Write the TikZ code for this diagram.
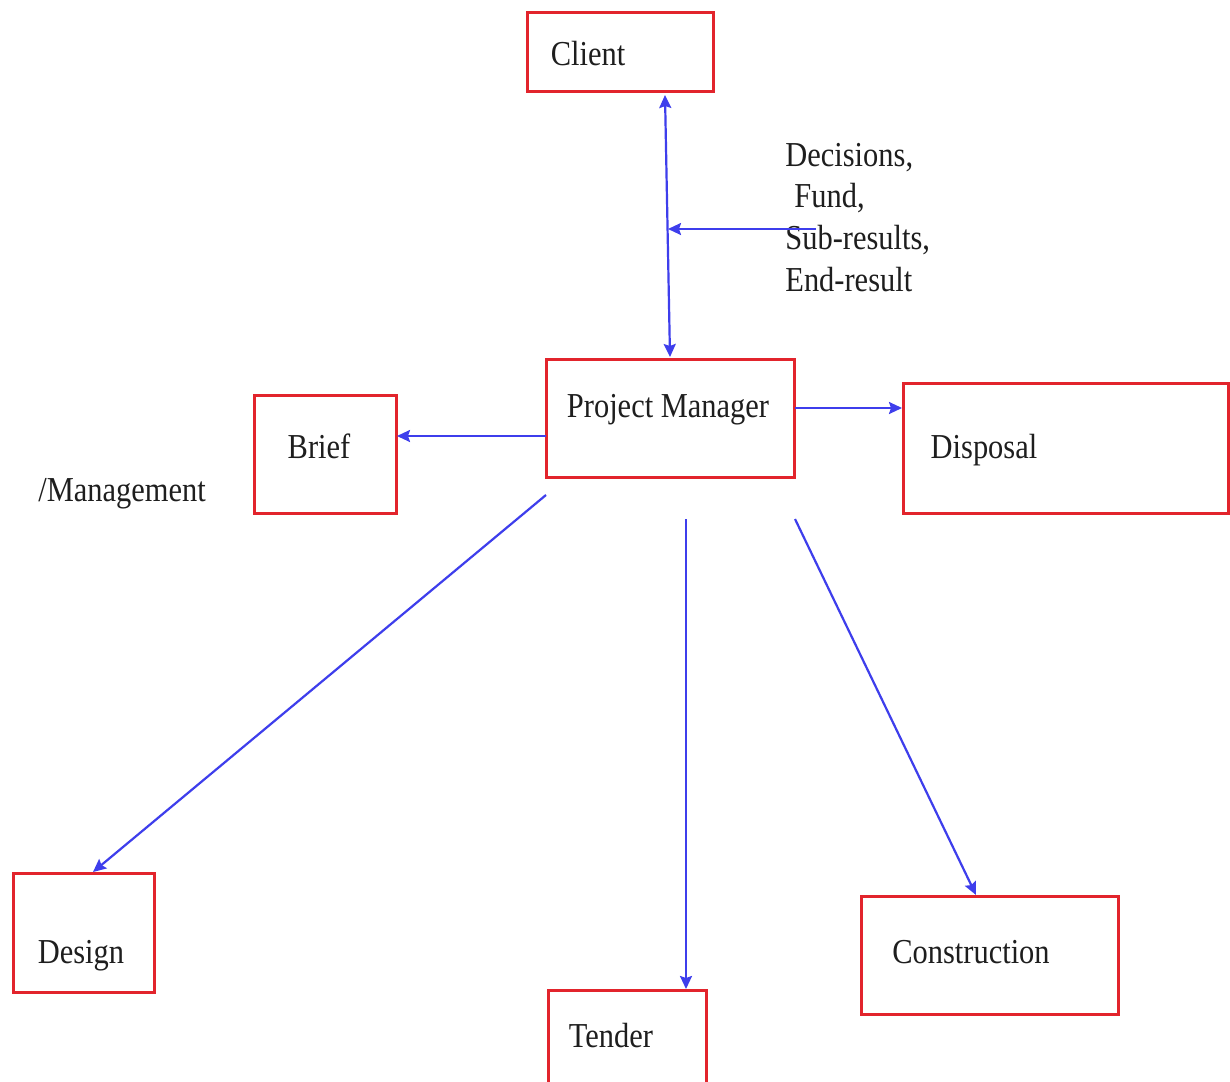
\documentclass[tikz,border=0pt]{standalone}
\usepackage{fontspec}
\setmainfont{Liberation Serif}[FakeStretch=0.87]
\usetikzlibrary{arrows.meta}
\definecolor{boxred}{RGB}{226,36,44}
\definecolor{arrblue}{RGB}{62,62,236}
\definecolor{txt}{RGB}{30,30,30}
\begin{document}
\begin{tikzpicture}[x=0.5pt,y=-0.5pt,
  box/.style={draw=boxred,line width=1.5pt,rectangle,inner sep=0pt,fill=none},
  lbl/.style={text=txt,inner sep=0pt,font=\fontsize{17.5}{21}\selectfont},
  arr/.style={draw=arrblue,line width=1.1pt,-{Stealth[length=6.5pt,width=6pt,inset=1pt]}},
  dblarr/.style={draw=arrblue,line width=1.1pt,{Stealth[length=6.5pt,width=6pt,inset=1pt]}-{Stealth[length=6.5pt,width=6pt,inset=1pt]}}]
\useasboundingbox (0,0) rectangle (1230,1081);
\fill[white] (0,0) rectangle (1230,1081);
% boxes
\node[box,minimum width=93pt,minimum height=39.5pt] (client) at (620,52.5) {};
\node[box,minimum width=124pt,minimum height=59pt] (pm) at (670,418) {};
\node[box,minimum width=71pt,minimum height=59pt] (brief) at (325,454.5) {};
\node[box,minimum width=162.5pt,minimum height=65pt] (disposal) at (1065.5,448) {};
\node[box,minimum width=70.5pt,minimum height=59.5pt] (design) at (83.5,932.5) {};
\node[box,minimum width=79pt,minimum height=52.5pt] (tender) at (627,1042.5) {};
\node[box,minimum width=128.5pt,minimum height=59pt] (construction) at (989.5,955) {};
% texts
\node[lbl,anchor=base] (tclient) at (588,66) {Client};
\node[lbl,anchor=base] (tpm) at (668,417) {Project Manager};
\node[lbl,anchor=base] (tbrief) at (319,458) {Brief};
\node[lbl,anchor=base] (tmgmt) at (122,501) {/Management};
\node[lbl,anchor=base] (tdisposal) at (984,458) {Disposal};
\node[lbl,anchor=base] (tdesign) at (81,963) {Design};
\node[lbl,anchor=base] (ttender) at (611,1047) {Tender};
\node[lbl,anchor=base] (tconstruction) at (971,963) {Construction};
\node[lbl,anchor=base west] (l1) at (785,166) {Decisions,};
\node[lbl,anchor=base west] (l2) at (794,207) {Fund,};
\node[lbl,anchor=base west] (l3) at (785,249) {Sub-results,};
\node[lbl,anchor=base west] (l4) at (785,291) {End-result};
% connector end points
\coordinate (ctop) at (665,95);
\coordinate (cbot) at (670,357);
\coordinate (hstart) at (816,229);
\coordinate (hend) at (668,229);
\coordinate (bstart) at (546,436);
\coordinate (bend) at (397,436);
\coordinate (dstart) at (795,408);
\coordinate (dend) at (902,408);
\coordinate (gstart) at (546,495);
\coordinate (gend) at (93,872);
\coordinate (tstart) at (686,519);
\coordinate (tend) at (686,989);
\coordinate (kstart) at (795,519);
\coordinate (kend) at (976,895);
% connectors
\draw[dblarr] (ctop) -- (cbot);
\draw[arr] (hstart) -- (hend);
\draw[arr] (bstart) -- (bend);
\draw[arr] (dstart) -- (dend);
\draw[arr] (gstart) -- (gend);
\draw[arr] (tstart) -- (tend);
\draw[arr] (kstart) -- (kend);
\end{tikzpicture}
\end{document}
